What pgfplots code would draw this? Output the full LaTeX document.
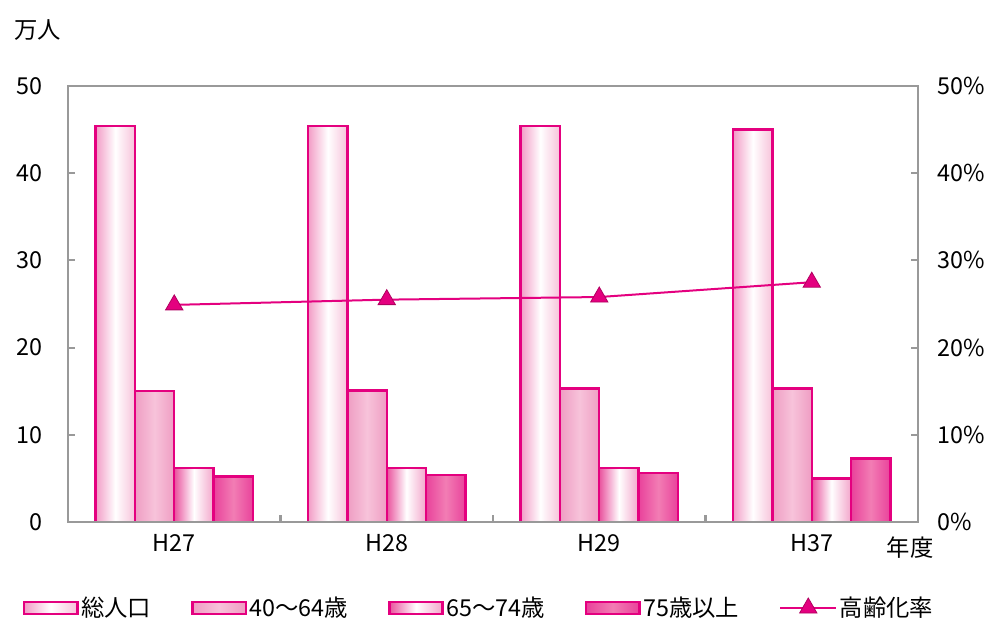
\documentclass[border=0pt]{standalone}
\usepackage{fontspec}
\setmainfont{Noto Sans CJK JP}
\usepackage{pgfplots}
\pgfplotsset{compat=1.18}

\definecolor{mag}{HTML}{E4007F}
\definecolor{magdark}{HTML}{B0005F}
\definecolor{axisgray}{HTML}{999999}
\definecolor{pkA}{HTML}{F29CC6}
\definecolor{pkB}{HTML}{F7C2DA}
\definecolor{pkC}{HTML}{EF9DC3}
\definecolor{pkD}{HTML}{F7C3DA}
\definecolor{pkE}{HTML}{E9529D}
\definecolor{pkF}{HTML}{F3A6CB}
\definecolor{pkG}{HTML}{E9429B}
\definecolor{pkH}{HTML}{F27DB4}

\pgfplotsset{
  barbase/.style={ybar, bar width=0.185, draw=mag, line width=1.8pt,
    legend image code/.code={\draw[##1] (0pt,-4.5pt) rectangle (40pt,4.5pt);}},
  % one style per series; each bar is its own plot so that it gets its own shading
  s1/.style={barbase, bar shift=-0.2775, left color=pkA, right color=pkB, middle color=white},
  s2/.style={barbase, bar shift=-0.0925, left color=pkC, right color=pkC, middle color=pkD},
  s3/.style={barbase, bar shift=0.0925, left color=pkE, right color=pkF, middle color=white},
  s4/.style={barbase, bar shift=0.2775, left color=pkG, right color=pkG, middle color=pkH},
  lineleg/.style={legend image code/.code={\draw[mark repeat=2, mark phase=2, ##1]
    plot coordinates {(0pt,0pt) (21pt,0pt) (42pt,0pt)};}},
  frame/.style={scale only axis, width=637.5pt, height=327pt,
    xmin=-0.5, xmax=3.5, ymin=0, ymax=50,
    axis line style={draw=axisgray, line width=1.6pt},
    tick style={draw=axisgray, line width=1.6pt},
    major tick length=5pt, minor tick length=5pt, tick align=inside,
    ytick={0,10,20,30,40,50},
    tick label style={font=\fontsize{17.5}{20}\selectfont},
    /pgf/number format/assume math mode=true},
}

\begin{document}
\begin{tikzpicture}
\begin{axis}[frame,
  xtick={0,1,2,3}, xticklabels={H27,H28,H29,H37},
  major x tick style={draw=none},
  minor xtick={0.5,1.5,2.5},
  xtick pos=bottom, ytick pos=left,
  xticklabel style={yshift=-6pt},
  yticklabel style={xshift=-16pt},
  legend columns=5,
  legend style={at={(0.484,0)}, anchor=center, yshift=-64.5pt,
    draw=none, fill=none, font=\fontsize{17.5}{20}\selectfont,
    /tikz/every even column/.append style={column sep=28pt}},
]
% 総人口
\addplot[s1] coordinates {(0,45.4)};
\addlegendentry{総人口}
% 40～64歳
\addplot[s2] coordinates {(0,15.0)};
\addlegendentry{40～64歳}
% 65～74歳
\addplot[s3] coordinates {(0,6.2)};
\addlegendentry{65～74歳}
% 75歳以上
\addplot[s4] coordinates {(0,5.2)};
\addlegendentry{75歳以上}

\addplot[s1, forget plot] coordinates {(1,45.4)};
\addplot[s1, forget plot] coordinates {(2,45.4)};
\addplot[s1, forget plot] coordinates {(3,45.0)};
\addplot[s2, forget plot] coordinates {(1,15.1)};
\addplot[s2, forget plot] coordinates {(2,15.3)};
\addplot[s2, forget plot] coordinates {(3,15.3)};
\addplot[s3, forget plot] coordinates {(1,6.2)};
\addplot[s3, forget plot] coordinates {(2,6.2)};
\addplot[s3, forget plot] coordinates {(3,5.0)};
\addplot[s4, forget plot] coordinates {(1,5.4)};
\addplot[s4, forget plot] coordinates {(2,5.6)};
\addplot[s4, forget plot] coordinates {(3,7.3)};

% 高齢化率 (%)
\addplot[sharp plot, color=mag, line width=1.5pt, mark=triangle*, mark size=7.5pt,
  mark options={fill=mag, draw=magdark, line width=0.6pt}, lineleg]
  coordinates {(0,24.9) (1,25.5) (2,25.8) (3,27.5)};
\addlegendentry{高齢化率}
\end{axis}

\begin{axis}[frame,
  xtick=\empty, ytick pos=right, yticklabel pos=right,
  yticklabel={\pgfmathprintnumber{\tick}\%},
  yticklabel style={xshift=11pt},
]
\addplot[draw=none] coordinates {(0,0)};
\end{axis}

\node[font=\fontsize{17.5}{20}\selectfont] at (-22.5pt,369pt) {万人};
\node[font=\fontsize{17.5}{20}\selectfont] at (631.5pt,-19.5pt) {年度};

\pgfresetboundingbox
\useasboundingbox (-51pt,-72.75pt) rectangle (689.25pt,391.5pt);
\end{tikzpicture}
\end{document}
